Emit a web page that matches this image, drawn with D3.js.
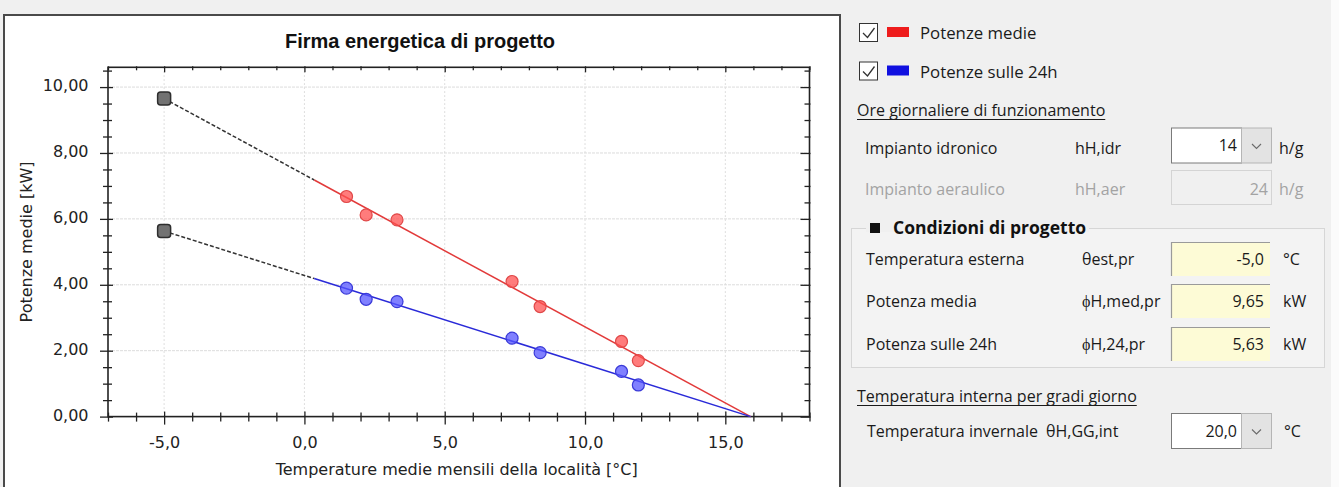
<!DOCTYPE html>
<html><head><meta charset="utf-8">
<script src="https://cdn.jsdelivr.net/npm/d3@7"></script>
<style>
body{margin:0;background:#f0f0f0;}
svg{display:block}
</style></head><body>
<svg id="c" width="1339" height="487"></svg>
<script>
// ---------------- data ----------------
const temps = [1.5, 2.2, 3.3, 7.4, 8.4, 11.3, 11.9];
const potenzeMedie = [6.68, 6.12, 5.97, 4.10, 3.34, 2.28, 1.70];
const potenze24h = [3.90, 3.56, 3.49, 2.38, 1.94, 1.37, 0.96];
const tempProgetto = -5.0;
const potMediaProgetto = 9.65;
const pot24Progetto = 5.63;
const tempBilancio = 15.9;
const tempInizioFit = 0.35;
const xMajorTicks = [-5, 0, 5, 10, 15];
const yMajorTicks = [0, 2, 4, 6, 8, 10];
const xDomain = [-7, 18];
const yDomain = [0, 10.6];
const chartTitle = "Firma energetica di progetto";
const xTitle = "Temperature medie mensili della località [°C]";
const yTitle = "Potenze medie [kW]";
const legendLabels = ["Potenze medie", "Potenze sulle 24h"];
const legendColors = ["#ee1c1c", "#1010e0"];

const it = d3.formatLocale({decimal: ",", thousands: ".", grouping: [3], currency: ["€", ""], minus: "-"});
const f1 = it.format(".1f"), f2 = it.format(".2f");

const svg = d3.select("#c");
svg.append("rect").attr("x", 1331).attr("y", 0).attr("width", 8).attr("height", 487).attr("fill", "#fbfbfb");

// chart panel
svg.append("rect").attr("x", 4).attr("y", 15).attr("width", 836).attr("height", 490)
  .attr("fill", "#fff").attr("stroke", "#4a4a4a").attr("stroke-width", 2);

const L = 108, R = 809.5, T = 67.3, B = 416.6;
const x = d3.scaleLinear().domain(xDomain).range([L, R]);
const y = d3.scaleLinear().domain(yDomain).range([B, T]);

const FONT = "DejaVu Sans";
svg.append("text").attr("x", 420).attr("y", 48).attr("text-anchor", "middle")
  .attr("font-family", "Liberation Sans").attr("font-weight", "bold").attr("font-size", 20)
  .attr("fill", "#111").text(chartTitle);

// grid
const g = svg.append("g");
g.selectAll(".vg").data(xMajorTicks).join("line")
  .attr("x1", d => x(d)).attr("x2", d => x(d)).attr("y1", T).attr("y2", B)
  .attr("stroke", "#d4d4d4").attr("stroke-dasharray", "1.5,2.5");
g.selectAll(".hg").data(yMajorTicks.filter(d => d > 0)).join("line")
  .attr("x1", L).attr("x2", R).attr("y1", d => y(d)).attr("y2", d => y(d))
  .attr("stroke", "#dcdcdc").attr("stroke-dasharray", "3,1");

const xAll = d3.range(xDomain[0], xDomain[1] + 0.01, 1);
const yAll = d3.range(0, 10.51, 0.5);
const isMx = d => xMajorTicks.includes(d);
const isMy = d => yMajorTicks.some(v => Math.abs(v - d) < 1e-9);

function styleAxis(ax) {
  ax.select(".domain").remove();
  ax.selectAll(".tick line").attr("stroke", "#222").attr("stroke-width", 1.3);
  ax.selectAll(".tick text").attr("font-family", FONT).attr("font-size", 16).attr("fill", "#222");
}

// bottom
const axB = svg.append("g").attr("transform", `translate(0,${B})`)
  .call(d3.axisBottom(x).tickValues(xAll).tickFormat(d => isMx(d) ? f1(d) : ""));
styleAxis(axB);
axB.selectAll(".tick line").attr("y1", d => isMx(d) ? -5 : -4).attr("y2", d => isMx(d) ? 8 : 5);
axB.selectAll(".tick text").attr("dy", null).attr("y", 31);

// top
const axT = svg.append("g").attr("transform", `translate(0,${T})`)
  .call(d3.axisTop(x).tickValues(xAll).tickFormat(""));
styleAxis(axT);
axT.selectAll(".tick line").attr("y1", -1).attr("y2", d => isMx(d) ? 5 : 3);

// left
const axL = svg.append("g").attr("transform", `translate(${L},0)`)
  .call(d3.axisLeft(y).tickValues(yAll).tickFormat(d => isMy(d) ? f2(d) : ""));
styleAxis(axL);
axL.selectAll(".tick line").attr("x1", d => isMy(d) ? -8 : -5).attr("x2", d => isMy(d) ? 5 : 4);
axL.selectAll(".tick text").attr("x", -19.5).attr("y", -1.5);

// right
const axR = svg.append("g").attr("transform", `translate(${R},0)`)
  .call(d3.axisRight(y).tickValues(yAll).tickFormat(""));
styleAxis(axR);
axR.selectAll(".tick line").attr("x1", 1).attr("x2", d => isMy(d) ? -9 : -5);

// frame
svg.append("rect").attr("x", L).attr("y", T).attr("width", R - L).attr("height", B - T)
  .attr("fill", "none").attr("stroke", "#222").attr("stroke-width", 1.6);

// titles
svg.append("text").attr("x", (L + R) / 2 - 2).attr("y", 475).attr("text-anchor", "middle")
  .attr("font-family", FONT).attr("font-size", 16).attr("fill", "#222").text(xTitle);
svg.append("text").attr("transform", `translate(32,${(T + B) / 2}) rotate(-90)`).attr("text-anchor", "middle")
  .attr("font-family", FONT).attr("font-size", 16).attr("fill", "#222").text(yTitle);

// lines
const series = [
  {vals: potenzeMedie, design: potMediaProgetto, line: "#e23a3a", fill: "rgba(255,80,80,0.75)", stroke: "#e04848"},
  {vals: potenze24h, design: pot24Progetto, line: "#2a2ad8", fill: "rgba(85,85,255,0.75)", stroke: "#3a3ad8"}
];
const line = d3.line().x(d => x(d[0])).y(d => y(d[1]));
series.forEach(s => {
  const slope = s.design / (tempBilancio - tempProgetto);
  const vStart = s.design - slope * (tempInizioFit - tempProgetto);
  svg.append("path").attr("d", line([[tempProgetto, s.design], [tempInizioFit, vStart]]))
    .attr("fill", "none").attr("stroke", "#333").attr("stroke-width", 1.5).attr("stroke-dasharray", "4,2");
  svg.append("path").attr("d", line([[tempInizioFit, vStart], [tempBilancio, 0]]))
    .attr("fill", "none").attr("stroke", s.line).attr("stroke-width", 1.5);
});
series.forEach(s => {
  svg.append("g").selectAll("circle").data(temps.map((t, i) => [t, s.vals[i]])).join("circle")
    .attr("cx", d => x(d[0])).attr("cy", d => y(d[1])).attr("r", 6)
    .attr("fill", s.fill).attr("stroke", s.stroke).attr("stroke-width", 1.2);
  svg.append("rect").attr("x", x(tempProgetto) - 6.5).attr("y", y(s.design) - 6.5)
    .attr("width", 13).attr("height", 13).attr("rx", 3)
    .attr("fill", "#727272").attr("stroke", "#2e2e2e").attr("stroke-width", 1.5);
});

// ---------------- right panel ----------------
const PF = "Open Sans", PS = 16;
const txt = (xx, yy, s, o = {}) => svg.append("text").attr("x", xx).attr("y", yy)
  .attr("font-family", PF).attr("font-size", o.size || PS).attr("font-weight", o.bold ? "bold" : null)
  .attr("fill", o.color || "#1a1a1a").attr("text-anchor", o.anchor || "start").text(s);

// legend
legendLabels.forEach((lab, i) => {
  const yy = 23 + i * 38.5;
  svg.append("rect").attr("x", 859.5).attr("y", yy + 0.5).attr("width", 18).attr("height", 18)
    .attr("fill", "#fff").attr("stroke", "#333");
  svg.append("path").attr("d", `M${863},${yy + 10} L${867.5},${yy + 14.5} L${874.5},${yy + 5}`)
    .attr("fill", "none").attr("stroke", "#333").attr("stroke-width", 1.3);
  svg.append("rect").attr("x", 887).attr("y", yy + 4).attr("width", 22).attr("height", 10).attr("fill", legendColors[i]);
  txt(920, yy + 16, lab, {size: 16.8});
});

function underlined(xx, yy, s) {
  const t = txt(xx, yy, s);
  const w = t.node().getComputedTextLength();
  svg.append("line").attr("x1", xx).attr("x2", xx + w).attr("y1", yy + 3.5).attr("y2", yy + 3.5)
    .attr("stroke", "#1a1a1a").attr("stroke-width", 1);
}
function combo(yTop, h, val) {
  svg.append("rect").attr("x", 1171.5).attr("y", yTop + 0.5).attr("width", 70).attr("height", h)
    .attr("fill", "#fff").attr("stroke", "#7a7a7a");
  svg.append("rect").attr("x", 1241.5).attr("y", yTop + 0.5).attr("width", 30).attr("height", h)
    .attr("fill", "#e3e3e3").attr("stroke", "#b5b5b5");
  const cy = yTop + h / 2 + 1;
  svg.append("path").attr("d", `M1252,${cy - 2} L1256.5,${cy + 2.5} L1261,${cy - 2}`)
    .attr("fill", "none").attr("stroke", "#6a6a6a").attr("stroke-width", 1.1);
  txt(1237, yTop + h / 2 + 6, val, {anchor: "end"});
}
function yellow(yTop, h, val) {
  svg.append("rect").attr("x", 1171).attr("y", yTop).attr("width", 99).attr("height", h).attr("fill", "#fdfbd6");
  svg.append("path").attr("d", `M1171.5,${yTop + h} V${yTop + 0.5} H1270`)
    .attr("fill", "none").attr("stroke", "#9a9a9a").attr("stroke-width", 1.2);
  txt(1264, yTop + h / 2 + 6, val, {anchor: "end"});
}

underlined(857, 116, "Ore giornaliere di funzionamento");
txt(865, 154, "Impianto idronico");
txt(1075, 154, "hH,idr");
combo(127.5, 35, "14");
txt(1279, 154, "h/g");

const gray = "#a3a3a3";
txt(865, 195, "Impianto aeraulico", {color: gray});
txt(1075, 195, "hH,aer", {color: gray});
svg.append("rect").attr("x", 1171.5).attr("y", 170.5).attr("width", 100).attr("height", 34)
  .attr("fill", "#f0f0f0").attr("stroke", "#d4d4d4");
txt(1268, 195, "24", {anchor: "end", color: gray});
txt(1279, 195, "h/g", {color: gray});

// group box
svg.append("rect").attr("x", 851.5).attr("y", 228.5).attr("width", 473).attr("height", 139)
  .attr("fill", "#f3f3f3").attr("stroke", "#d6d6d6");
const head = txt(893, 234, "Condizioni di progetto", {bold: true, size: 17.5, color: "#111"});
const hw = head.node().getComputedTextLength();
svg.insert("rect", () => head.node()).attr("x", 866).attr("y", 226).attr("width", hw + 30).attr("height", 6).attr("fill", "#f0f0f0");
svg.append("rect").attr("x", 870).attr("y", 223).attr("width", 10).attr("height", 10).attr("fill", "#111");

const rows = [
  ["Temperatura esterna", "θest,pr", f1(tempProgetto), "°C", 242],
  ["Potenza media", "ϕH,med,pr", f2(potMediaProgetto), "kW", 284],
  ["Potenza sulle 24h", "ϕH,24,pr", f2(pot24Progetto), "kW", 327]
];
rows.forEach(r => {
  txt(866, r[4] + 22.5, r[0]);
  txt(1082, r[4] + 22.5, r[1]);
  yellow(r[4], 34, r[2]);
  txt(1283, r[4] + 22.5, r[3]);
});

underlined(857, 402, "Temperatura interna per gradi giorno");
txt(867, 437, "Temperatura invernale");
txt(1046, 437, "θH,GG,int");
combo(413, 35, "20,0");
txt(1284, 437, "°C");
</script>
</body></html>
